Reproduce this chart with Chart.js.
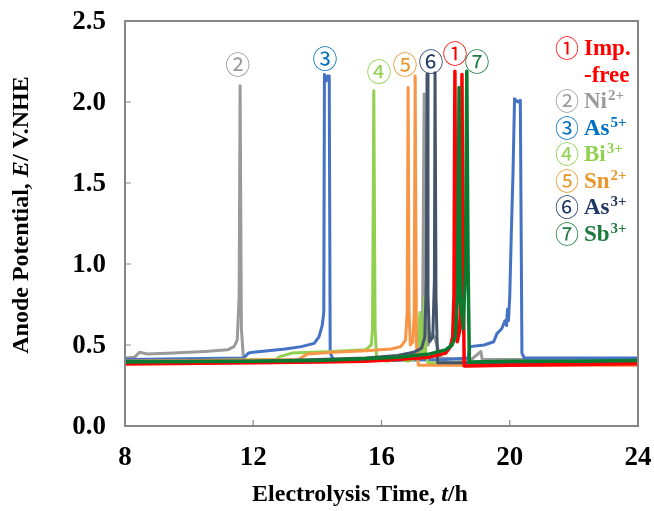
<!DOCTYPE html>
<html><head><meta charset="utf-8">
<script src="https://cdn.jsdelivr.net/npm/chart.js@4.4.1/dist/chart.umd.min.js"></script>
<style>html,body{margin:0;padding:0;background:#fff}#wrap{width:654px;height:511px}</style>
</head><body><div id="wrap"><canvas id="c" width="654" height="511"></canvas></div>
<script>
// ---- data (t in h, E in V vs NHE) ----
const xTicks = [8, 12, 16, 20, 24];
const yTicks = [0.0, 0.5, 1.0, 1.5, 2.0, 2.5];
const xTickLabels = ['8', '12', '16', '20', '24'];
const yTickLabels = ['0.0', '0.5', '1.0', '1.5', '2.0', '2.5'];

const niT = [8.0, 8.3, 8.45, 8.7, 9.5, 10.5, 11.2, 11.4, 11.5, 11.56, 11.59, 11.63, 11.7, 13, 15, 16.5, 17.2, 17.28, 17.33, 17.37, 17.45, 17.55, 17.65, 17.85, 18.5, 18.8, 19.1, 19.14, 20, 24];
const niE = [0.42, 0.425, 0.455, 0.445, 0.45, 0.46, 0.47, 0.49, 0.53, 0.8, 2.10, 0.6, 0.40, 0.40, 0.40, 0.41, 0.45, 0.6, 2.05, 0.7, 0.5, 0.57, 0.55, 0.42, 0.41, 0.41, 0.46, 0.41, 0.41, 0.41];

const as5T = [8, 11.7, 11.85, 12.0, 13.0, 13.5, 13.9, 14.05, 14.15, 14.2, 14.22, 14.27, 14.32, 14.37, 14.4, 14.5, 16, 18, 18.7, 18.76, 19.2, 19.5, 19.6, 19.75, 19.85, 19.9, 19.93, 19.96, 20.0, 20.05, 20.1, 20.15, 20.25, 20.33, 20.38, 20.45, 22, 24];
const as5E = [0.41, 0.42, 0.45, 0.455, 0.475, 0.49, 0.51, 0.55, 0.62, 0.7, 2.17, 2.13, 2.16, 2.16, 0.45, 0.41, 0.405, 0.41, 0.42, 0.49, 0.5, 0.52, 0.57, 0.6, 0.65, 0.62, 0.72, 0.65, 0.8, 1.2, 1.55, 2.02, 2.0, 2.01, 0.45, 0.42, 0.42, 0.42];

const biT = [8, 12.7, 12.85, 13.2, 14.5, 15.5, 15.68, 15.72, 15.76, 15.8, 15.85, 16.2, 16.5, 16.8, 17.0, 17.12, 17.2, 17.25, 17.28, 17.31, 17.34, 17.38, 17.45, 17.6, 24];
const biE = [0.40, 0.41, 0.43, 0.45, 0.46, 0.47, 0.5, 0.6, 2.07, 0.6, 0.41, 0.40, 0.42, 0.40, 0.41, 0.45, 0.70, 0.45, 0.42, 0.5, 0.80, 0.45, 0.39, 0.39, 0.39];

const snT = [8, 13.4, 13.7, 14.5, 15.5, 16.3, 16.6, 16.75, 16.8, 16.83, 16.86, 16.9, 16.98, 17.02, 17.05, 17.09, 17.15, 18, 24];
const snE = [0.40, 0.41, 0.445, 0.455, 0.465, 0.475, 0.49, 0.53, 0.7, 2.09, 0.7, 0.5, 0.52, 0.7, 2.16, 0.5, 0.375, 0.375, 0.375];

const as3T = [8, 12, 14, 15.5, 16.5, 17.0, 17.25, 17.35, 17.40, 17.42, 17.45, 17.5, 17.6, 17.65, 17.67, 17.7, 17.75, 18.4, 24];
const as3E = [0.40, 0.40, 0.41, 0.42, 0.435, 0.455, 0.48, 0.55, 0.9, 2.17, 0.8, 0.52, 0.55, 0.9, 2.18, 0.8, 0.39, 0.39, 0.39];

const freeT = [8, 12, 14, 15.5, 16.5, 17.5, 18.0, 18.15, 18.22, 18.26, 18.29, 18.32, 18.36, 18.45, 18.49, 18.51, 18.54, 18.58, 20, 22, 24];
const freeE = [0.383, 0.39, 0.395, 0.40, 0.41, 0.425, 0.45, 0.49, 0.55, 0.8, 2.19, 0.8, 0.52, 0.6, 1.0, 2.17, 1.0, 0.37, 0.375, 0.38, 0.385];

const sbT = [8, 12, 14, 15.5, 16.5, 17.5, 18.0, 18.2, 18.3, 18.37, 18.42, 18.46, 18.55, 18.62, 18.66, 18.7, 18.74, 20, 22, 24];
const sbE = [0.395, 0.40, 0.405, 0.415, 0.425, 0.445, 0.47, 0.5, 0.55, 0.8, 2.09, 0.8, 0.6, 1.0, 2.19, 1.0, 0.395, 0.40, 0.40, 0.405];

// peak markers (circled numbers) placed at data coordinates
const peakMarks = [
  {txt:'②', t:11.52, e:2.23, color:'#9a9a9a'},
  {txt:'③', t:14.24, e:2.27, color:'#0070C0'},
  {txt:'④', t:15.92, e:2.19, color:'#92D050'},
  {txt:'⑤', t:16.73, e:2.23, color:'#E8962A'},
  {txt:'⑥', t:17.54, e:2.25, color:'#1F3864'},
  {txt:'①', t:18.29, e:2.30, color:'#FF0000'},
  {txt:'⑦', t:18.98, e:2.25, color:'#1E7B3E'}
];

const legendRows = [
  {num:'①', name:'Imp.', sup:'', color:'#FF0000'},
  {num:'', name:'-free', sup:'', color:'#FF0000'},
  {num:'②', name:'Ni', sup:'2+', color:'#9a9a9a'},
  {num:'③', name:'As', sup:'5+', color:'#0070C0'},
  {num:'④', name:'Bi', sup:'3+', color:'#92D050'},
  {num:'⑤', name:'Sn', sup:'2+', color:'#E8962A'},
  {num:'⑥', name:'As', sup:'3+', color:'#1F3864'},
  {num:'⑦', name:'Sb', sup:'3+', color:'#1E7B3E'}
];

function pts(ts, es){ return ts.map((t,i)=>({x:t, y:es[i]})); }
function ds(label, ts, es, color, w){
  return {label, data: pts(ts, es), borderColor: color, backgroundColor: color,
          borderWidth: w || 3, pointRadius: 0, tension: 0, fill: false, borderJoinStyle:'round', borderCapStyle:'round'};
}

const SERIF = '"Liberation Serif", "Times New Roman", serif';
const CIRC = '"Noto Sans CJK JP", "DejaVu Sans", sans-serif';

const deco = {
  id: 'deco',
  afterDraw(chart){
    const {ctx, chartArea:a, scales:{x, y}} = chart;
    ctx.save();
    // frame
    ctx.strokeStyle = '#868686'; ctx.lineWidth = 2;
    ctx.strokeRect(a.left, a.top, a.right - a.left, a.bottom - a.top);
    // inner ticks
    ctx.lineWidth = 1.2;
    ctx.beginPath();
    yTicks.forEach(v => { if (v>0 && v<2.5){ const py = y.getPixelForValue(v); ctx.moveTo(a.left, py); ctx.lineTo(a.left+6, py);} });
    xTicks.forEach(v => { if (v>8 && v<24){ const px = x.getPixelForValue(v); ctx.moveTo(px, a.bottom); ctx.lineTo(px, a.bottom-6);} });
    ctx.stroke();

    // tick labels
    ctx.fillStyle = '#000';
    ctx.font = 'bold 27px ' + SERIF;
    ctx.textAlign = 'right'; ctx.textBaseline = 'middle';
    yTicks.forEach((v,i) => ctx.fillText(yTickLabels[i], a.left - 19, y.getPixelForValue(v) + 1));
    ctx.textAlign = 'center'; ctx.textBaseline = 'middle';
    xTicks.forEach((v,i) => ctx.fillText(xTickLabels[i], x.getPixelForValue(v), a.bottom + 32));

    // peak markers
    ctx.textAlign = 'center'; ctx.textBaseline = 'middle';
    ctx.font = '25px ' + CIRC;
    peakMarks.forEach(m => {
      ctx.fillStyle = m.color;
      ctx.fillText(m.txt, x.getPixelForValue(m.t), y.getPixelForValue(m.e));
    });

    // legend
    ctx.textAlign = 'left'; ctx.textBaseline = 'alphabetic';
    let ly = 55;
    legendRows.forEach(r => {
      ctx.fillStyle = r.color;
      if (r.num){ ctx.font = '24px ' + CIRC; ctx.fillText(r.num, 555, ly + 2); }
      ctx.font = 'bold 23px ' + SERIF;
      ctx.fillText(r.name, 584, ly);
      if (r.sup){
        const w = ctx.measureText(r.name).width;
        ctx.font = 'bold 15px ' + SERIF;
        ctx.fillText(r.sup, 584 + w + 1, ly - 8);
      }
      ly += 26.5;
    });

    // axis titles with italic parts
    function mixed(parts, cx, cy){
      let total = 0;
      parts.forEach(p => { ctx.font = p.f; total += ctx.measureText(p.s).width; });
      let px = cx - total/2;
      parts.forEach(p => { ctx.font = p.f; ctx.fillText(p.s, px, cy); px += ctx.measureText(p.s).width; });
    }
    ctx.fillStyle = '#000'; ctx.textBaseline = 'middle';
    const B = 'bold 24px ' + SERIF, BI = 'italic bold 24px ' + SERIF;
    mixed([{s:'Electrolysis Time, ', f:B}, {s:'t', f:BI}, {s:'/h', f:B}], 360, 495);
    ctx.save();
    ctx.translate(22, 215);
    ctx.rotate(-Math.PI/2);
    mixed([{s:'Anode Potential, ', f:B}, {s:'E', f:BI}, {s:'/ V.NHE', f:B}], 0, 0);
    ctx.restore();
    ctx.restore();
  }
};

new Chart(document.getElementById('c'), {
  type: 'line',
  data: {
    datasets: [
      ds('⑦ Sb3+', sbT, sbE, '#0A7A2F', 3.5),
      ds('① Imp.-free', freeT, freeE, '#FF0000', 3.5),
      ds('⑥ As3+', as3T, as3E, '#44546A', 3),
      ds('⑤ Sn2+', snT, snE, '#F79646', 3),
      ds('④ Bi3+', biT, biE, '#92D050', 3),
      ds('③ As5+', as5T, as5E, '#4472C4', 3),
      ds('② Ni2+', niT, niE, '#9a9a9a', 3)
    ]
  },
  options: {
    responsive: false, animation: false, devicePixelRatio: 1,
    layout: {padding: {left: 0, top: 21, right: 16, bottom: 0}},
    plugins: {legend: {display: false}, tooltip: {enabled: false}},
    scales: {
      x: {type: 'linear', min: 8, max: 24,
          afterBuildTicks: s => { s.ticks = xTicks.map(v => ({value: v})); },
          afterFit: s => { s.height = 85; },
          grid: {display: false, drawTicks: false}, border: {display: false},
          ticks: {display: false}},
      y: {type: 'linear', min: 0, max: 2.5,
          afterBuildTicks: s => { s.ticks = yTicks.map(v => ({value: v})); },
          afterFit: s => { s.width = 125; },
          grid: {display: false, drawTicks: false}, border: {display: false},
          ticks: {display: false}}
    }
  },
  plugins: [deco]
});
</script></body></html>
